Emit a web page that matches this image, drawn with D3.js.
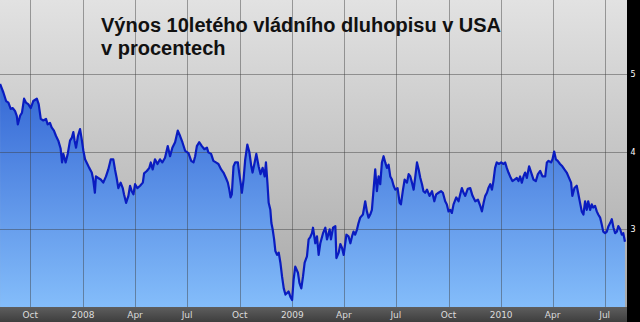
<!DOCTYPE html>
<html>
<head>
<meta charset="utf-8">
<script src="https://cdn.jsdelivr.net/npm/d3@7"></script>
<style>
  html, body { margin: 0; padding: 0; background: #000; }
  svg { display: block; }
</style>
</head>
<body>
<div id="chart"></div>
<script>
// dates as decimal years
const dates = [
  2007.603,2007.619,2007.632,2007.643,2007.654,2007.664,2007.675,2007.683,2007.688,2007.699,
  2007.708,2007.718,2007.727,2007.738,2007.750,2007.762,2007.779,2007.788,2007.798,2007.810,
  2007.823,2007.831,2007.842,2007.850,2007.861,2007.871,2007.882,2007.893,2007.900,2007.906,
  2007.917,2007.927,2007.938,2007.947,2007.954,2007.960,2007.967,2007.976,2007.986,2007.994,
  2008.002,2008.010,2008.021,2008.030,2008.042,2008.049,2008.057,2008.062,2008.073,2008.085,
  2008.097,2008.110,2008.121,2008.133,2008.145,2008.153,2008.161,2008.169,2008.180,2008.190,
  2008.196,2008.206,2008.217,2008.225,2008.233,2008.241,2008.249,2008.260,2008.273,2008.286,
  2008.292,2008.305,2008.317,2008.324,2008.333,2008.344,2008.356,2008.368,2008.379,2008.392,
  2008.405,2008.416,2008.427,2008.440,2008.453,2008.464,2008.475,2008.488,2008.504,2008.517,
  2008.528,2008.536,2008.544,2008.555,2008.568,2008.580,2008.592,2008.599,2008.612,2008.623,
  2008.635,2008.647,2008.660,2008.671,2008.683,2008.692,2008.699,2008.705,2008.711,2008.719,
  2008.727,2008.740,2008.746,2008.753,2008.759,2008.767,2008.775,2008.785,2008.795,2008.804,
  2008.810,2008.820,2008.828,2008.839,2008.848,2008.858,2008.868,2008.874,2008.881,2008.887,
  2008.895,2008.900,2008.906,2008.913,2008.919,2008.927,2008.935,2008.943,2008.951,2008.959,
  2008.967,2008.975,2008.982,2008.991,2008.999,2009.006,2009.014,2009.027,2009.034,2009.043,
  2009.051,2009.059,2009.070,2009.078,2009.086,2009.094,2009.099,2009.110,2009.118,2009.126,
  2009.134,2009.147,2009.158,2009.166,2009.179,2009.185,2009.195,2009.206,2009.211,2009.222,
  2009.230,2009.238,2009.246,2009.259,2009.269,2009.278,2009.286,2009.293,2009.301,2009.310,
  2009.317,2009.325,2009.338,2009.349,2009.357,2009.365,2009.373,2009.381,2009.389,2009.397,
  2009.405,2009.413,2009.421,2009.429,2009.437,2009.445,2009.453,2009.461,2009.469,2009.477,
  2009.485,2009.493,2009.504,2009.514,2009.520,2009.530,2009.538,2009.549,2009.557,2009.565,
  2009.573,2009.581,2009.589,2009.597,2009.605,2009.613,2009.621,2009.628,2009.636,2009.645,
  2009.657,2009.669,2009.680,2009.689,2009.700,2009.712,2009.721,2009.732,2009.740,2009.748,
  2009.756,2009.764,2009.772,2009.785,2009.796,2009.804,2009.812,2009.820,2009.828,2009.840,
  2009.852,2009.863,2009.876,2009.889,2009.900,2009.908,2009.916,2009.924,2009.932,2009.939,
  2009.948,2009.956,2009.963,2009.971,2009.979,2009.990,2010.000,2010.011,2010.019,2010.027,
  2010.035,2010.043,2010.054,2010.064,2010.075,2010.083,2010.091,2010.099,2010.107,2010.115,
  2010.123,2010.134,2010.144,2010.155,2010.166,2010.176,2010.187,2010.198,2010.211,2010.219,
  2010.227,2010.239,2010.246,2010.254,2010.262,2010.271,2010.282,2010.293,2010.303,2010.314,
  2010.322,2010.335,2010.341,2010.351,2010.362,2010.370,2010.378,2010.386,2010.394,2010.402,
  2010.410,2010.417,2010.426,2010.434,2010.441,2010.450,2010.458,2010.465,2010.474,2010.482,
  2010.489,2010.498,2010.506,2010.514,2010.522,2010.530,2010.538,2010.546,2010.554,2010.561,
  2010.570,2010.578,2010.585,2010.593
];

// yield in percent
const yields = [
  4.87,4.76,4.65,4.63,4.55,4.56,4.52,4.46,4.35,4.46,
  4.50,4.68,4.63,4.61,4.56,4.65,4.68,4.61,4.42,4.40,
  4.42,4.35,4.37,4.31,4.27,4.20,4.14,4.04,3.86,3.97,
  3.86,3.97,4.14,4.18,4.25,4.14,4.05,4.20,4.29,4.16,
  4.01,3.90,3.84,3.79,3.73,3.64,3.47,3.68,3.66,3.64,
  3.60,3.68,3.77,3.90,3.90,3.77,3.66,3.53,3.60,3.53,
  3.45,3.34,3.43,3.56,3.49,3.45,3.58,3.53,3.56,3.60,
  3.72,3.75,3.79,3.86,3.77,3.90,3.84,3.90,3.86,3.92,
  4.07,3.94,4.05,4.12,4.27,4.20,4.12,4.01,3.98,3.88,
  3.86,3.94,4.07,4.12,4.07,4.03,4.05,3.99,3.97,3.88,
  3.86,3.84,3.77,3.73,3.66,3.60,3.51,3.41,3.45,3.81,
  3.86,3.86,3.73,3.60,3.47,3.64,3.90,4.09,3.99,3.81,
  3.73,3.86,3.97,3.81,3.71,3.79,3.68,3.86,3.60,3.34,
  3.25,3.08,3.00,2.87,2.72,2.67,2.70,2.57,2.39,2.24,
  2.16,2.18,2.20,2.13,2.09,2.35,2.52,2.44,2.31,2.24,
  2.39,2.57,2.65,2.87,2.90,2.95,3.02,2.82,2.91,2.67,
  2.82,2.95,3.02,2.87,3.00,2.87,3.02,3.04,2.63,2.70,
  2.81,2.76,2.67,2.93,2.91,2.82,2.91,2.97,2.93,3.00,
  3.08,3.15,3.19,3.36,3.23,3.15,3.19,3.25,3.51,3.77,
  3.49,3.68,3.58,3.86,3.94,3.86,3.79,3.83,3.68,3.64,
  3.56,3.51,3.53,3.34,3.32,3.51,3.64,3.60,3.71,3.68,
  3.60,3.51,3.68,3.86,3.77,3.66,3.58,3.49,3.47,3.51,
  3.43,3.49,3.36,3.45,3.47,3.49,3.47,3.36,3.32,3.23,
  3.25,3.21,3.32,3.41,3.36,3.45,3.53,3.47,3.43,3.52,
  3.53,3.43,3.36,3.38,3.30,3.23,3.34,3.43,3.47,3.53,
  3.58,3.51,3.62,3.79,3.86,3.84,3.86,3.84,3.86,3.79,
  3.73,3.68,3.62,3.64,3.66,3.62,3.68,3.60,3.68,3.73,
  3.66,3.81,3.73,3.64,3.62,3.71,3.75,3.68,3.68,3.86,
  3.88,3.86,3.90,4.00,3.90,3.88,3.84,3.81,3.77,3.73,
  3.68,3.60,3.43,3.53,3.56,3.45,3.34,3.23,3.19,3.36,
  3.25,3.36,3.25,3.32,3.28,3.30,3.23,3.19,3.15,3.06,
  2.97,2.95,2.97,3.04,3.08,3.13,3.02,2.95,2.97,3.04,
  3.00,2.93,2.95,2.84
];

const yTicks = [3, 4, 5];
const titleLines = ["Výnos 10letého vládního dluhopisu v USA", "v procentech"];

function fromDecimal(t) {
  const y = Math.floor(t);
  const s = new Date(y, 0, 1), e = new Date(y + 1, 0, 1);
  return new Date(+s + (t - y) * (e - s));
}

const data = dates.map((t, i) => ({ date: fromDecimal(t), value: yields[i] }));

const width = 640, height = 322;
const plotW = 627, plotH = 307;

const svg = d3.select("#chart").append("svg")
  .attr("width", width)
  .attr("height", height);

const defs = svg.append("defs");

const bg = defs.append("linearGradient").attr("id", "bg")
  .attr("x1", 0).attr("y1", 0).attr("x2", 0).attr("y2", 1);
bg.append("stop").attr("offset", "0%").attr("stop-color", "#e2e2e2");
bg.append("stop").attr("offset", "100%").attr("stop-color", "#a8a8a8");

const blue = defs.append("linearGradient").attr("id", "blue")
  .attr("gradientUnits", "userSpaceOnUse")
  .attr("x1", 0).attr("y1", 80).attr("x2", 0).attr("y2", plotH);
blue.append("stop").attr("offset", "0%").attr("stop-color", "#3366d4");
blue.append("stop").attr("offset", "100%").attr("stop-color", "#84bdfa");

const band = defs.append("linearGradient").attr("id", "band")
  .attr("x1", 0).attr("y1", 0).attr("x2", 0).attr("y2", 1);
band.append("stop").attr("offset", "0%").attr("stop-color", "#5e5e5e");
band.append("stop").attr("offset", "100%").attr("stop-color", "#3e3e3e");

const x = d3.scaleTime()
  .domain([new Date(2007, 7, 9), new Date(2010, 7, 9)])
  .range([0, plotW]);

const y = d3.scaleLinear()
  .domain([2, 5.95])
  .range([plotH, 0]);

// background
svg.append("rect").attr("width", plotW).attr("height", plotH).attr("fill", "url(#bg)");

// area
const area = d3.area()
  .x(d => x(d.date))
  .y0(plotH)
  .y1(d => y(d.value));

svg.append("path").datum(data)
  .attr("d", area)
  .attr("fill", "url(#blue)");

// grid
const xTicks = x.ticks(d3.timeMonth.every(3));
svg.append("g").selectAll("line").data(xTicks).join("line")
  .attr("x1", d => Math.round(x(d)) + 0.5).attr("x2", d => Math.round(x(d)) + 0.5)
  .attr("y1", 0).attr("y2", plotH)
  .attr("stroke", "rgba(60,60,60,0.45)");
svg.append("g").selectAll("line").data(yTicks).join("line")
  .attr("x1", 0).attr("x2", plotW)
  .attr("y1", d => Math.round(y(d)) + 0.5).attr("y2", d => Math.round(y(d)) + 0.5)
  .attr("stroke", "rgba(60,60,60,0.45)");

// line
const line = d3.line()
  .x(d => x(d.date))
  .y(d => y(d.value));

svg.append("path").datum(data)
  .attr("d", line)
  .attr("fill", "none")
  .attr("stroke", "#0a1cc0")
  .attr("stroke-width", 2.2)
  .attr("stroke-linejoin", "round");

// bottom band + axis labels
svg.append("rect").attr("x", 0).attr("y", plotH).attr("width", plotW).attr("height", height - plotH)
  .attr("fill", "url(#band)");

const fmt = d => d.getMonth() === 0 ? d3.timeFormat("%Y")(d) : d3.timeFormat("%b")(d);
svg.append("g").selectAll("text").data(xTicks).join("text")
  .attr("x", d => x(d))
  .attr("y", 317.5)
  .attr("text-anchor", "middle")
  .attr("fill", "#dcdcdc")
  .style("font-family", "DejaVu Sans, Verdana, sans-serif")
  .style("font-size", "9px")
  .text(fmt);

// right band
svg.append("rect").attr("x", plotW).attr("y", 0).attr("width", width - plotW).attr("height", height)
  .attr("fill", "#000");
svg.append("g").selectAll("text").data(yTicks).join("text")
  .attr("x", 633)
  .attr("y", d => y(d) + 3)
  .attr("text-anchor", "middle")
  .attr("fill", "#fff")
  .style("font-family", "DejaVu Sans, Verdana, sans-serif")
  .style("font-size", "8px")
  .text(d => d);

// title
svg.append("g").selectAll("text").data(titleLines).join("text")
  .attr("x", 101)
  .attr("y", (d, i) => 32 + i * 23)
  .attr("fill", "#111")
  .style("font-family", "Liberation Sans, Arial, sans-serif")
  .style("font-weight", "bold")
  .style("font-size", "20px")
  .text(d => d);
</script>
</body>
</html>
